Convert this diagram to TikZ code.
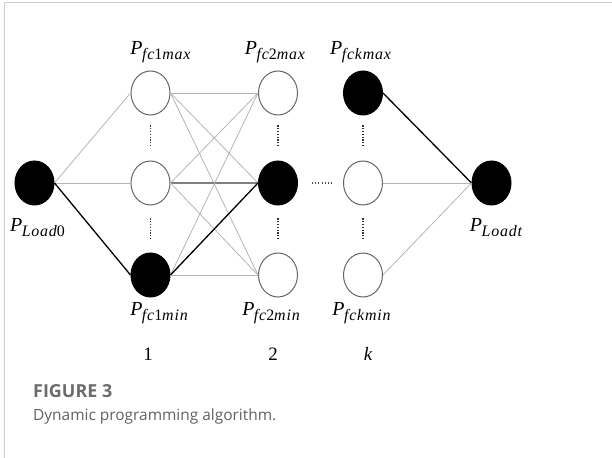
\documentclass[tikz,border=0pt]{standalone}
\usepackage{fontspec}
\newfontfamily\capfont{Open Sans}
\newfontfamily\numfont{Liberation Serif}
\newfontfamily\subfont[LetterSpace=5]{Liberation Serif}
\usetikzlibrary{shapes.geometric,calc}
\newcommand\plbl[1]{{\itshape P}\kern-0.5bp\raisebox{-5bp}{\subfont\fontsize{16}{18}\selectfont\itshape #1}}
\newcommand\up[1]{{\upshape #1}}
\begin{document}
\begin{tikzpicture}[x=1bp,y=-1bp,
  st/.style={ellipse,draw=black!60,line width=1bp,minimum width=39bp,minimum height=44bp,inner sep=0pt,fill=white},
  on/.style={st,fill=black,draw=black},
  lite/.style={draw=black!29,line width=0.8bp},
  midl/.style={draw=black!50,line width=1.1bp},
  best/.style={draw=black,line width=1.3bp},
  vdots/.style={draw=black!80,line width=1.4bp,dash pattern=on 1.2bp off 1.6bp},
  hdots/.style={draw=black!70,line width=1.2bp,dash pattern=on 1bp off 2.2bp},
  lab/.style={inner sep=0pt,anchor=base,font=\numfont\fontsize{20}{23}\selectfont},
  num/.style={inner sep=0pt,anchor=base,font=\numfont\fontsize{19}{22}\selectfont},
  frame/.style={draw=black!20,line width=1bp}]
\useasboundingbox (0,0) rectangle (612,458);
\draw[frame] (4.5,3) rectangle (630,470);
% nodes
\node[on] (n0) at (34.5,183) {};
\node[st] (a1) at (150.5,93) {};
\node[st] (b1) at (150.5,183) {};
\node[on] (c1) at (150.5,275) {};
\node[st] (a2) at (278,93) {};
\node[on] (b2) at (278,183) {};
\node[st] (c2) at (278,275) {};
\node[on] (ak) at (363,93) {};
\node[st] (bk) at (363,183) {};
\node[st] (ck) at (363,275) {};
\node[on] (nt) at (491.5,183) {};
% edges
\draw[lite] (n0.east) -- (a1.west);
\draw[lite] (n0.east) -- (b1.west);
\draw[best] (n0.east) -- (c1.west);
\draw[lite] (a1.east) -- (a2.west);
\draw[lite] (a1.east) -- (b2.west);
\draw[lite] (a1.east) -- (c2.west);
\draw[lite] (b1.east) -- (a2.west);
\draw[midl] (b1.east) -- (b2.west);
\draw[lite] (b1.east) -- (c2.west);
\draw[lite] (c1.east) -- (a2.west);
\draw[best] (c1.east) -- (b2.west);
\draw[lite] (c1.east) -- (c2.west);
\draw[best] (ak.east) -- (nt.west);
\draw[lite] (bk.east) -- (nt.west);
\draw[lite] (ck.east) -- (nt.west);
% dots
\foreach \c in {1,2,k}{
  \draw[vdots] ($(a\c.south)+(0,10)$) -- ($(b\c.north)+(0,-13)$);
  \draw[vdots] ($(b\c.south)+(0,13)$) -- ($(c\c.north)+(0,-13)$);
}
\coordinate (h1) at (312,183);
\coordinate (h2) at (332,183);
\draw[hdots] (h1) -- (h2);
% labels
\node[lab] (l1) at (160.5,55) {\plbl{fc\up{1}max}};
\node[lab] (l2) at (275,55) {\plbl{fc\up{2}max}};
\node[lab] (l3) at (360.5,55) {\plbl{fckmax}};
\node[lab] (l4) at (37.5,232) {\plbl{Load\up{0}}};
\node[lab] (l5) at (496,232) {\plbl{Loadt}};
\node[lab] (l6) at (159,315) {\plbl{fc\up{1}min}};
\node[lab] (l7) at (271,315) {\plbl{fc\up{2}min}};
\node[lab] (l8) at (361.5,315) {\plbl{fckmin}};
\node[num] (m1) at (148,360) {1};
\node[num] (m2) at (273,360) {2};
\node[num] (m3) at (368,360) {\itshape k};
\node[inner sep=0pt,anchor=base west,text=black!58,font=\capfont\bfseries\fontsize{18}{21}\selectfont] (f) at (33,397) {FIGURE 3};
\node[inner sep=0pt,anchor=base west,text=black!62,font=\capfont\fontsize{15.5}{19}\selectfont] (cap) at (33,420) {Dynamic programming algorithm.};
\end{tikzpicture}
\end{document}
